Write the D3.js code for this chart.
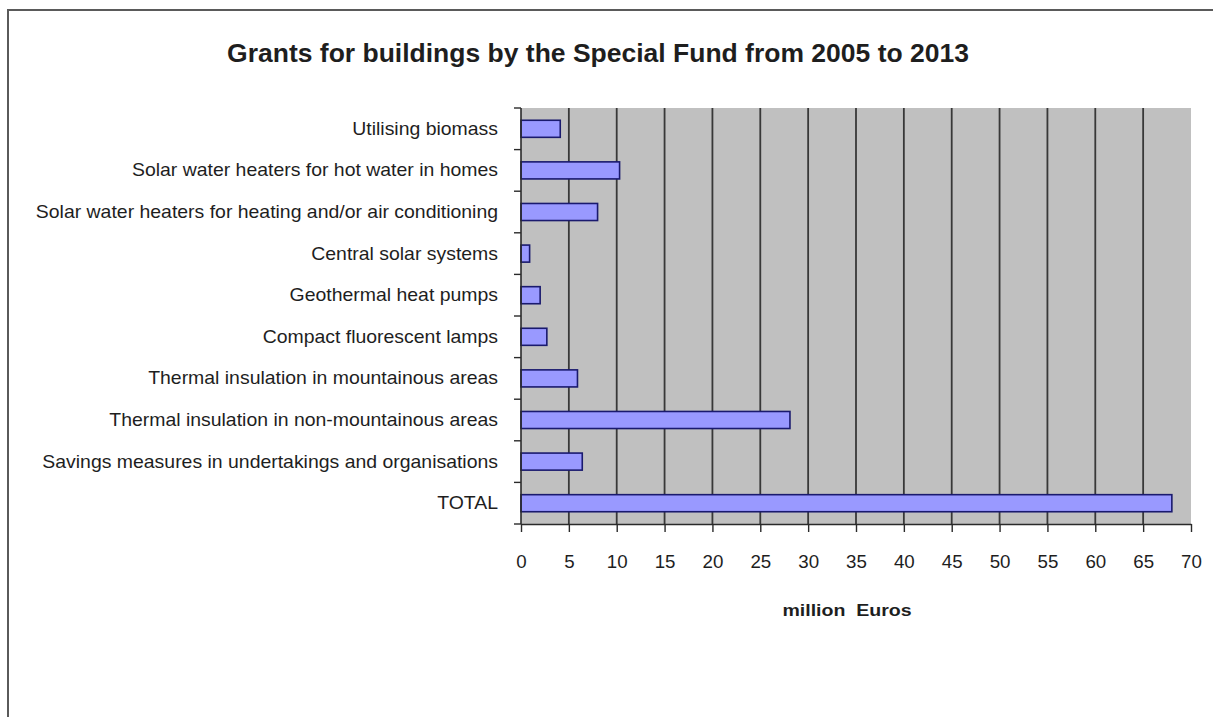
<!DOCTYPE html>
<html>
<head>
<meta charset="utf-8">
<script src="https://cdn.jsdelivr.net/npm/d3@7"></script>
<style>
  html, body { margin: 0; padding: 0; background: #ffffff; }
  svg { display: block; }
  text { font-family: "Liberation Sans", Arial, sans-serif; fill: #1e1e1e; }
</style>
</head>
<body>
<svg id="chart" width="1213" height="717"></svg>
<script>
// Grants per measure, million Euros
const categories = [
  "Utilising biomass",
  "Solar water heaters for hot water in homes",
  "Solar water heaters for heating and/or air conditioning",
  "Central solar systems",
  "Geothermal heat pumps",
  "Compact fluorescent lamps",
  "Thermal insulation in mountainous areas",
  "Thermal insulation in non-mountainous areas",
  "Savings measures in undertakings and organisations",
  "TOTAL"
];
const grants = [4.1, 10.3, 8.0, 0.9, 2.0, 2.7, 5.9, 28.1, 6.4, 68.0];
const xTicks = [0, 5, 10, 15, 20, 25, 30, 35, 40, 45, 50, 55, 60, 65, 70];
const titleText = "Grants for buildings by the Special Fund from 2005 to 2013";
const xAxisTitle = "million  Euros";

const svg = d3.select("#chart");
const plot = { left: 521, right: 1191, top: 108, bottom: 524 };

const x = d3.scaleLinear().domain([0, 70]).range([plot.left, plot.right]);
const y = d3.scaleBand().domain(categories)
  .range([plot.top, plot.bottom])
  .paddingInner(0.59).paddingOuter(0.295);

// outer chart frame (left and top edges)
svg.append("path")
  .attr("d", `M8,717V10H1213`)
  .attr("fill", "none").attr("stroke", "#5a5a5a").attr("stroke-width", 2);

// title
svg.append("text")
  .attr("transform", "translate(598,62) scale(1.06,1)")
  .attr("text-anchor", "middle")
  .attr("font-weight", "bold")
  .attr("font-size", 25)
  .text(titleText);

// plot background
svg.append("rect")
  .attr("x", plot.left).attr("y", plot.top)
  .attr("width", plot.right - plot.left).attr("height", plot.bottom - plot.top)
  .attr("fill", "#c0c0c0");

// vertical gridlines
svg.append("g").selectAll("line")
  .data(xTicks.filter(v => v > 0 && v < 70))
  .join("line")
  .attr("x1", d => x(d)).attr("x2", d => x(d))
  .attr("y1", plot.top).attr("y2", plot.bottom)
  .attr("stroke", "#383838").attr("stroke-width", 1.8);

// bars
svg.append("g").selectAll("rect")
  .data(categories.map((c, i) => ({ c, v: grants[i] })))
  .join("rect")
  .attr("x", x(0))
  .attr("y", d => y(d.c))
  .attr("width", d => x(d.v) - x(0))
  .attr("height", y.bandwidth())
  .attr("fill", "#9999ff")
  .attr("stroke", "#1a1a6e")
  .attr("stroke-width", 1.6);

// x axis
const xAxis = svg.append("g")
  .attr("transform", `translate(0,${plot.bottom})`)
  .call(d3.axisBottom(x).tickValues(xTicks).tickSize(8).tickSizeOuter(0).tickPadding(23));
xAxis.select(".domain").attr("stroke", "#2a2a2a").attr("stroke-width", 1.6);
xAxis.selectAll(".tick line").attr("stroke", "#2a2a2a").attr("stroke-width", 1.4);
xAxis.selectAll(".tick text")
  .attr("font-size", 18)
  .attr("fill", "#1e1e1e")
  .attr("transform", "scale(1.04,1)")
  .attr("font-family", "Liberation Sans, Arial, sans-serif");

// x axis title
svg.append("text")
  .attr("transform", "translate(847,616) scale(1.15,1)")
  .attr("text-anchor", "middle")
  .attr("font-weight", "bold")
  .attr("font-size", 17)
  .style("white-space", "pre")
  .text(xAxisTitle);

// y axis line and category boundary ticks
const boundaries = d3.range(categories.length + 1);
const yb = d3.scaleLinear().domain([0, categories.length]).range([plot.top, plot.bottom]);
svg.append("line")
  .attr("x1", plot.left).attr("x2", plot.left)
  .attr("y1", plot.top).attr("y2", plot.bottom)
  .attr("stroke", "#2a2a2a").attr("stroke-width", 1.6);
svg.append("g").selectAll("line")
  .data(boundaries)
  .join("line")
  .attr("x1", plot.left - 7).attr("x2", plot.left)
  .attr("y1", d => yb(d)).attr("y2", d => yb(d))
  .attr("stroke", "#2a2a2a").attr("stroke-width", 1.4);

// category labels
svg.append("g").selectAll("text")
  .data(categories)
  .join("text")
  .attr("transform", d => `translate(498,${y(d) + y.bandwidth() / 2 + 6}) scale(1.08,1)`)
  .attr("text-anchor", "end")
  .attr("font-size", 18)
  .text(d => d);
</script>
</body>
</html>
